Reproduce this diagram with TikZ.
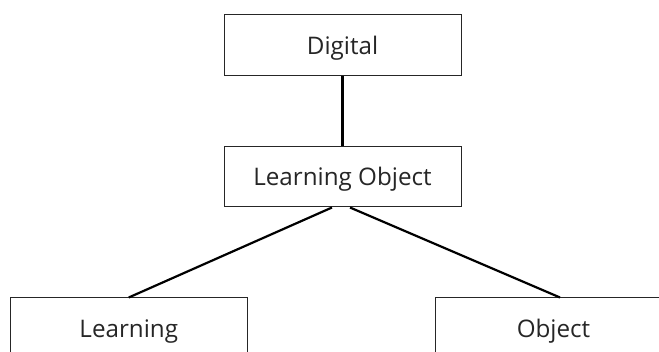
\documentclass[tikz,border=0pt]{standalone}
\usepackage{fontspec}
\setmainfont{Open Sans}
\begin{document}
\begin{tikzpicture}[x=1pt,y=1pt,
  termbox/.style={draw=black!85, line width=1pt, fill=white,
    minimum width=237pt, minimum height=61pt, inner sep=0pt,
    font=\fontsize{24.2}{28}\selectfont, text=black!85,
    text height=17.3pt, text depth=0pt},
  link/.style={line width=2.2pt, black}]
\useasboundingbox (0,0) rectangle (659,352);
\fill[white] (0,0) rectangle (659,352);
\begin{scope}
\clip (0,0) rectangle (659,352);
\node[termbox] (digital) at (342.5,306.5) {Digital};
\node[termbox, minimum height=60pt] (lo) at (342.5,175) {Learning Object};
\node[termbox] (learn) at (128.75,23.5) {Learning};
\node[termbox] (obj) at (553.5,23.5) {Object};
\draw[link] (digital.south) -- (lo.north);
\draw[link] ([xshift=-10.5pt]lo.south) -- (learn.north);
\draw[link] ([xshift=7.5pt]lo.south) -- ([xshift=6.5pt]obj.north);
\end{scope}
\end{tikzpicture}
\end{document}
